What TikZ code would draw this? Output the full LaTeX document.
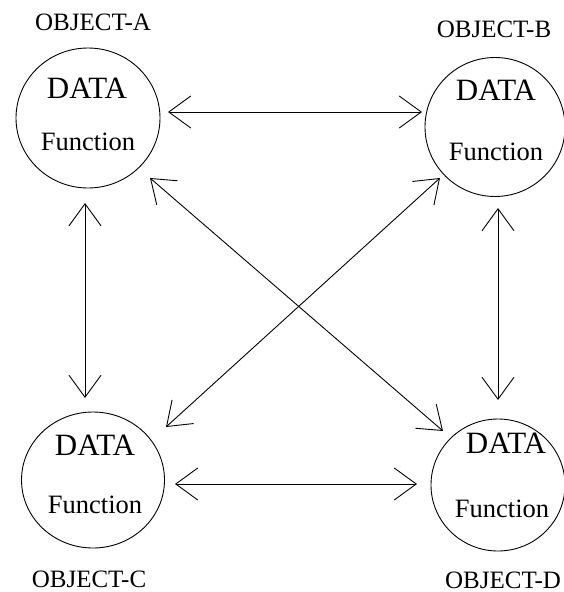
\documentclass[tikz,border=0pt]{standalone}
\usepackage{fontspec}
\setmainfont{Liberation Serif}
\usetikzlibrary{arrows.meta,shapes.geometric}
\begin{document}
\begin{tikzpicture}[x=1pt,y=-1pt,
  objcircle/.style={draw,ellipse,line width=0.9pt,inner sep=0pt},
  datatext/.style={anchor=base,inner sep=0pt,font=\fontsize{31}{31}\selectfont},
  functext/.style={anchor=base,inner sep=0pt,font=\fontsize{26.5}{26.5}\selectfont},
  objlabel/.style={anchor=base,inner sep=0pt,font=\fontsize{25}{25}\selectfont},
  arr/.style={line width=0.9pt,{Straight Barb[length=22pt,width=32pt,line width=0.9pt]}-{Straight Barb[length=22pt,width=32pt,line width=0.9pt]}}]
\useasboundingbox (0,0) rectangle (563,592);
% circles
\node[objcircle,minimum width=144pt,minimum height=140pt] (A) at (88,118) {};
\node[objcircle,minimum width=140pt,minimum height=139pt] (B) at (495,127) {};
\node[objcircle,minimum width=143pt,minimum height=136pt] (C) at (93,480) {};
\node[objcircle,minimum width=134pt,minimum height=132pt] (D) at (498,485) {};
% texts
\node[objlabel] (la) at (93,30) {OBJECT-A};
\node[datatext] (da) at (87,98) {DATA};
\node[functext] (fa) at (88,150) {Function};
\node[objlabel] (lb) at (494,37) {OBJECT-B};
\node[datatext] (db) at (496,100) {DATA};
\node[functext] (fb) at (496,160) {Function};
\node[datatext] (dc) at (95,455) {DATA};
\node[functext] (fc) at (95,513) {Function};
\node[objlabel] (lc) at (89,587) {OBJECT-C};
\node[datatext] (dd) at (506,453) {DATA};
\node[functext] (fd) at (502,517) {Function};
\node[objlabel] (ld) at (503,588) {OBJECT-D};
% connector end points
\coordinate (ab1) at (168,112);
\coordinate (ab2) at (422,112);
\coordinate (ac1) at (85,203);
\coordinate (ac2) at (85,398);
\coordinate (bd1) at (498,208);
\coordinate (bd2) at (498,400);
\coordinate (cd1) at (175,484);
\coordinate (cd2) at (417,484);
\coordinate (ad1) at (150,178);
\coordinate (ad2) at (443,431);
\coordinate (cb1) at (166,427);
\coordinate (cb2) at (440,178);
% connectors
\draw[arr] (ab1) -- (ab2);
\draw[arr] (ac1) -- (ac2);
\draw[arr] (bd1) -- (bd2);
\draw[arr] (cd1) -- (cd2);
\draw[arr] (ad1) -- (ad2);
\draw[arr] (cb1) -- (cb2);
\end{tikzpicture}
\end{document}
